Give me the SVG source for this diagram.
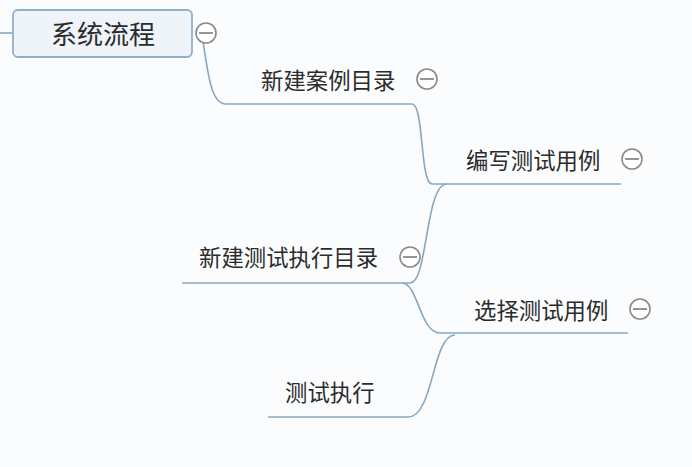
<svg xmlns="http://www.w3.org/2000/svg" width="692" height="467" viewBox="0 0 692 467">
<style>
.t{font-family:"Noto Sans CJK SC","Liberation Sans",sans-serif;font-size:22.4px;fill:#2b2b2b}
.c{fill:none;stroke:#86a8c4;stroke-width:1.6}
.k circle{fill:#fff;stroke:#8a8a8a;stroke-width:1.6}
.k line{stroke:#8a8a8a;stroke-width:1.8}
</style>
<rect width="692" height="467" fill="#fbfcfd"/>
<g id="connectors">
<path class="c" d="M0,33 H13"/>
<path class="c" d="M203,42 C208,70 210,104 226,104 H412 C424,104 420,184 432,184 H621"/>
<path class="c" d="M447,184 C425,184 428,283 410,283 H182"/>
<path class="c" d="M402,283 C418,283 420,333 440,333 H628"/>
<path class="c" d="M455,335 C432,335 434,417 408,417 H268"/>
</g>
<g id="root">
<rect x="13" y="10" width="179" height="47" rx="5" fill="#eef4f9" stroke="#8fb0cc" stroke-width="1.8"/>
<text class="t" x="103" y="44" text-anchor="middle" style="font-size:26px">系统流程</text>
<g class="k"><circle cx="206" cy="33" r="10"/><line x1="199" y1="33" x2="213" y2="33"/></g>
</g>
<g id="n1">
<text class="t" x="261" y="89">新建案例目录</text>
<g class="k"><circle cx="427" cy="79" r="10"/><line x1="420" y1="79" x2="434" y2="79"/></g>
</g>
<g id="n2">
<text class="t" x="466" y="169">编写测试用例</text>
<g class="k"><circle cx="632" cy="159" r="10"/><line x1="625" y1="159" x2="639" y2="159"/></g>
</g>
<g id="n3">
<text class="t" x="199" y="266">新建测试执行目录</text>
<g class="k"><circle cx="410" cy="257" r="10"/><line x1="403" y1="257" x2="417" y2="257"/></g>
</g>
<g id="n4">
<text class="t" x="474" y="319">选择测试用例</text>
<g class="k"><circle cx="640" cy="309" r="10"/><line x1="633" y1="309" x2="647" y2="309"/></g>
</g>
<g id="n5">
<text class="t" x="285" y="401">测试执行</text>
</g>
</svg>
